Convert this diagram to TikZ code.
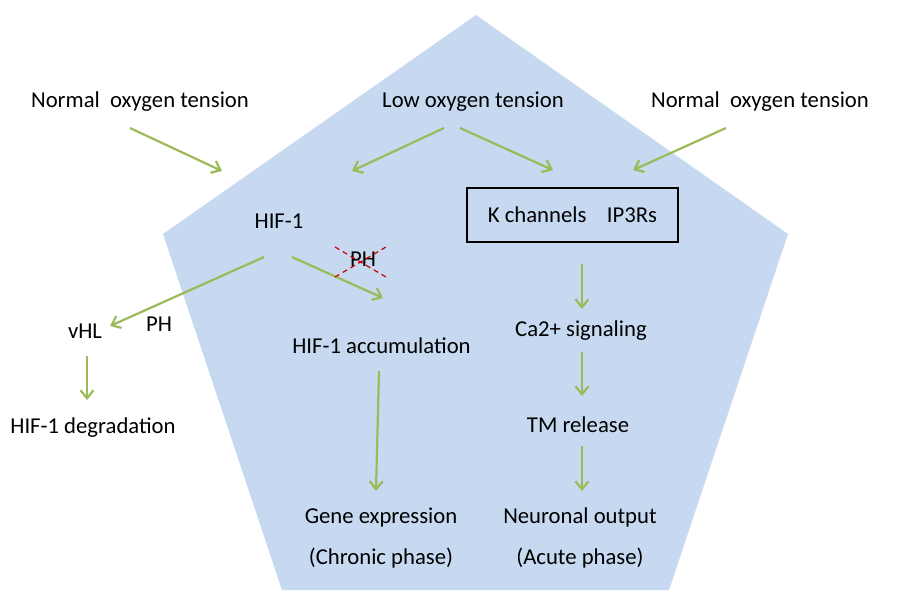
\documentclass[tikz,border=0pt]{standalone}
\usepackage{fontspec}
\setmainfont{Carlito}
\usetikzlibrary{arrows.meta}

\definecolor{paleblue}{HTML}{C6D9F1}
\definecolor{leafgreen}{HTML}{9BBB59}

\tikzset{
  lbl/.style={font=\fontsize{22.7}{27}\selectfont, anchor=base, inner sep=0pt},
  arr/.style={draw=leafgreen, line width=2.2pt,
    -{Straight Barb[length=8pt,width=13pt]}}
}

\begin{document}
\begin{tikzpicture}[x=1pt,y=-1pt]
\useasboundingbox (0,0) rectangle (900,603);

\fill[paleblue] (476,15) -- (788,234) -- (669,590) -- (282,590) -- (163,234) -- cycle;

\node[lbl] (normL) at (140,107) {Normal\ \ oxygen tension};
\node[lbl] (low) at (473,107) {Low oxygen tension};
\node[lbl] (normR) at (760,107) {Normal\ \ oxygen tension};

\node[lbl] (hif) at (279,228) {HIF-1};
\node[lbl] (phx) at (363,266) {PH};
\node[draw, line width=1.8pt, minimum width=211pt, minimum height=54pt,
  inner sep=0pt, font=\fontsize{22.7}{27}\selectfont] (box) at (572.5,215)
  {K channels\ \ \ \ IP3Rs};

\node[lbl] (vhl) at (85,338) {vHL};
\node[lbl] (ph) at (159,331) {PH};
\node[lbl] (deg) at (93,433) {HIF-1 degradation};

\node[lbl] (accum) at (381.5,353) {HIF-1 accumulation};
\node[lbl] (gene) at (381,523) {Gene expression};
\node[lbl] (chronic) at (381,564) {(Chronic phase)};

\node[lbl] (ca) at (581,336) {Ca2+ signaling};
\node[lbl] (tm) at (578,432) {TM release};
\node[lbl] (neuro) at (580,523) {Neuronal output};
\node[lbl] (acute) at (580,564) {(Acute phase)};

\coordinate (edgeL) at (222,171);
\coordinate (toHif) at (352,171);

% inputs
\draw[arr] ([xshift=-10pt,yshift=-21pt]normL.base) -- (edgeL);
\draw[arr] ([xshift=-29pt,yshift=-21pt]low.base) -- (toHif);
\draw[arr] ([xshift=-13pt,yshift=-21pt]low.base) -- ([xshift=-19.5pt,yshift=17pt]box.north);
\draw[arr] ([xshift=-34pt,yshift=-21pt]normR.base) -- ([xshift=60.5pt,yshift=17pt]box.north);

% HIF-1 branch
\draw[arr] ([xshift=-15pt,yshift=-29pt]hif.base) -- ([xshift=25pt,yshift=12pt]vhl.base);
\draw[arr] ([xshift=13pt,yshift=-29pt]hif.base) -- ([xshift=1.5pt,yshift=55pt]accum.base);
\draw[arr] ([xshift=2pt,yshift=-18pt]vhl.base) -- ([xshift=-6pt,yshift=33pt]deg.base);
\draw[arr] ([xshift=-2.5pt,yshift=-18pt]accum.base) -- ([xshift=-5pt,yshift=32pt]gene.base);

% channel branch
\draw[arr] ([xshift=9.5pt,yshift=-21pt]box.south) -- ([xshift=1pt,yshift=27pt]ca.base);
\draw[arr] ([xshift=1pt,yshift=-16pt]ca.base) -- ([xshift=4pt,yshift=36pt]tm.base);
\draw[arr] ([xshift=4pt,yshift=-14pt]tm.base) -- ([xshift=2pt,yshift=32pt]neuro.base);

\draw[red!80!black, line width=1.2pt, dash pattern=on 5pt off 4pt]
  ([xshift=-28pt,yshift=19pt]phx.base) -- ([xshift=23pt,yshift=-11pt]phx.base)
  ([xshift=-28pt,yshift=-11pt]phx.base) -- ([xshift=23pt,yshift=19pt]phx.base);
\end{tikzpicture}
\end{document}
